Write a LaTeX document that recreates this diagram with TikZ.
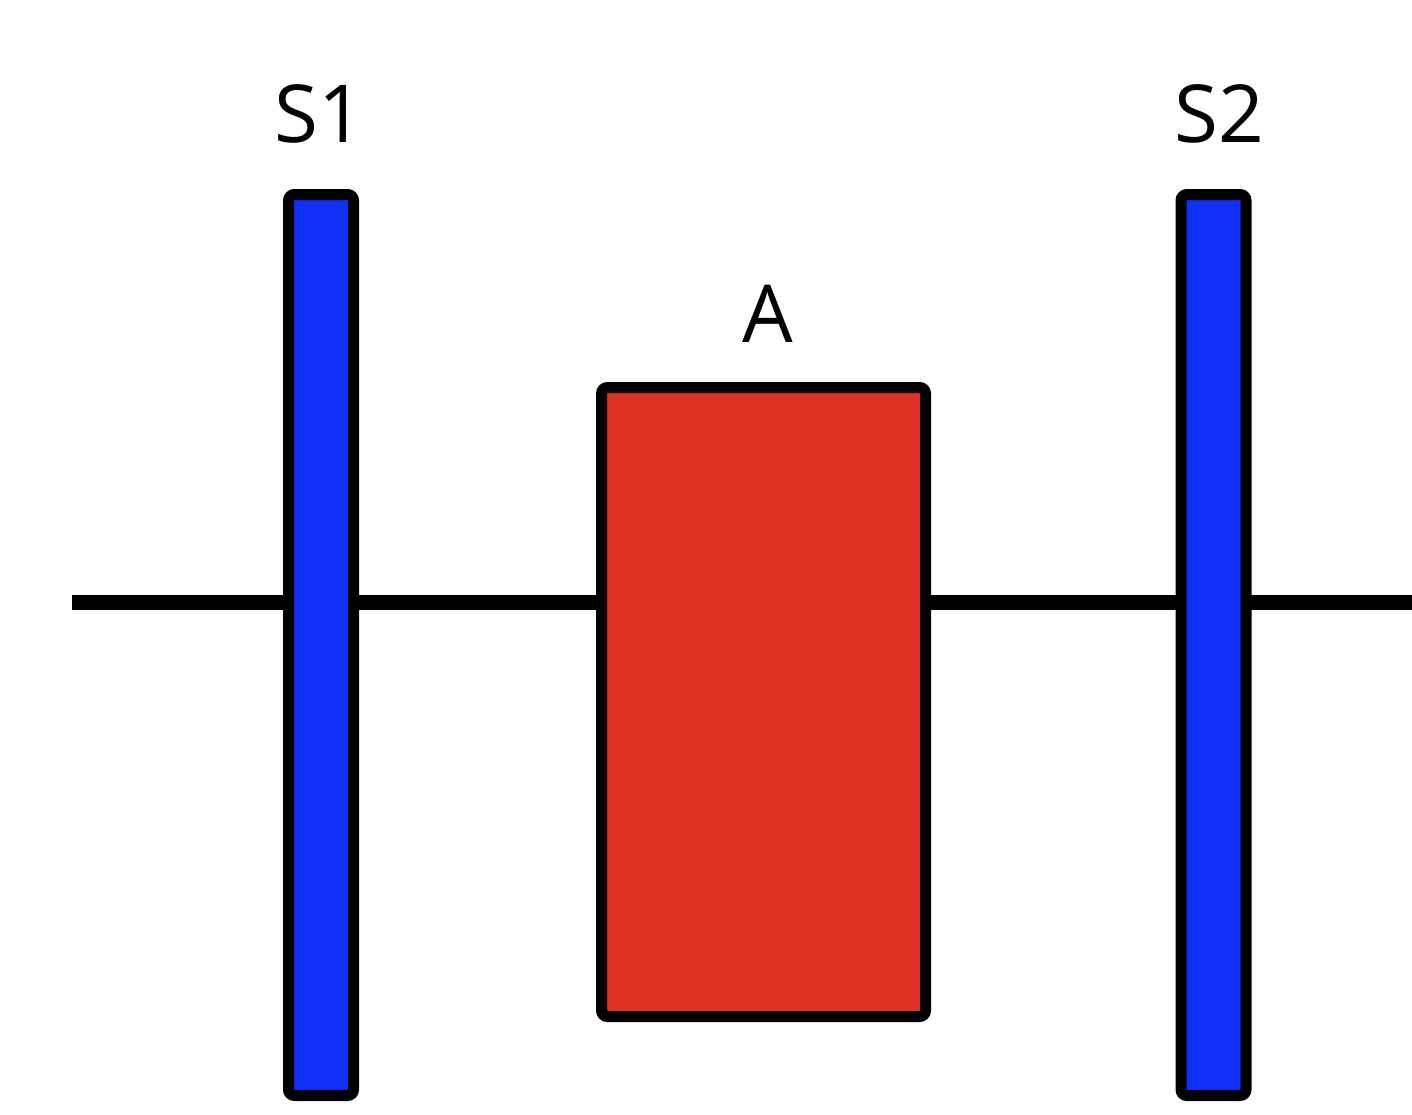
\documentclass[tikz,border=0pt]{standalone}
\usepackage{fontspec}
\setmainfont{Open Sans}
\usepackage{tikz}

\definecolor{barblue}{RGB}{16,48,245}
\definecolor{boxred}{RGB}{224,50,34}

\begin{document}
\begin{tikzpicture}[x=1pt, y=-1pt,
    bar/.style={draw=black, line width=11pt, rounded corners=6pt,
        minimum width=65pt, minimum height=901pt, inner sep=0pt},
    tag/.style={anchor=base, inner sep=0pt,
        font=\fontsize{80}{96}\selectfont}]
    \useasboundingbox (0, 0) rectangle (1412, 1114);
    \coordinate (lstart) at (72, 602);
    \coordinate (lend) at (1412, 602);
    \draw[black, line width=15pt]
        (lstart) -- (lend);
    \foreach \n/\x/\t in {1/321/319, 2/1213.5/1219}{
        \node[bar, fill=barblue] (s\n) at (\x, 645) {};
        \node[tag] (s\n label) at (\t, 142) {S\n};
    }
    \node[draw=black, fill=boxred, line width=11pt, rounded corners=6pt,
        minimum width=324pt, minimum height=629pt, inner sep=0pt]
        (a) at (763.5, 702) {};
    \node[tag] (a label) at (767.5, 342) {A};
\end{tikzpicture}
\end{document}
